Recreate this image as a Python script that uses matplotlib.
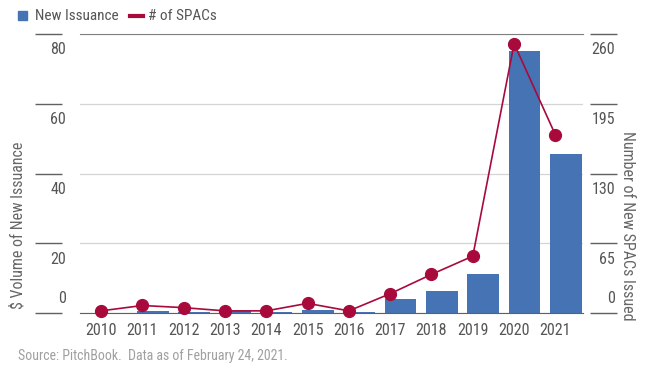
import matplotlib
matplotlib.use("Agg")
import matplotlib.pyplot as plt
from matplotlib.patches import Rectangle
from matplotlib.lines import Line2D

plt.rcParams['font.family'] = ['Roboto Condensed', 'DejaVu Sans']

years = ['2010', '2011', '2012', '2013', '2014', '2015', '2016', '2017', '2018', '2019', '2020', '2021']
issuance = [0.1, 0.6, 0.4, 0.5, 0.3, 1.0, 0.3, 4.0, 6.3, 11.2, 75.0, 45.5]
spacs = [2, 7, 5, 2, 2, 9, 2, 18, 36, 53, 251, 166]
left_ticks = [0, 20, 40, 60, 80]
right_ticks = [0, 65, 130, 195, 260]

blue = '#4673b4'
red = '#a90a3c'
grey = '#555555'

fig = plt.figure(figsize=(6.45, 3.82), dpi=100)
ax = fig.add_axes([0.124, 0.1806, 0.78, 0.7304])
ax2 = ax.twinx()

x = list(range(len(years)))
ax.bar([i + 0.25 for i in x], issuance, width=0.77, color=blue, zorder=2)
ax2.plot(x, spacs, color=red, lw=1.2, marker='o', markersize=8.5, zorder=3, clip_on=False)

ax.set_xlim(-0.51, 11.67)
ax.set_ylim(0, 80)
ax2.set_ylim(0, 260)

# gridlines
ax.set_yticks(left_ticks)
ax2.set_yticks(right_ticks)
ax.yaxis.grid(True, color='#d4d4d4', lw=0.9, zorder=0)
ax.set_axisbelow(True)

for a in (ax, ax2):
    for s in a.spines.values():
        s.set_visible(False)
ax.spines['top'].set_visible(True)
ax.spines['top'].set_color('#808080')
ax.spines['bottom'].set_visible(True)
ax.spines['bottom'].set_color('#606060')

ax.spines['left'].set_position(('outward', 13))
ax2.spines['right'].set_position(('outward', 5))
ax.tick_params(axis='y', length=19.5, width=1, color='#606060', labelleft=False)
ax2.tick_params(axis='y', length=19.5, width=1, color='#606060', labelright=False)

ax.set_xticks(x)
ax.set_xticklabels(years)
ax.tick_params(axis='x', length=0, pad=7, labelsize=11.5, labelcolor=grey)

# tick labels placed off the tick marks, like the original
for v in left_ticks:
    if v == 0:
        ax.annotate(str(v), xy=(0, v), xycoords=('axes fraction', 'data'), xytext=(-10, 5),
                    textcoords='offset points', ha='right', va='bottom', fontsize=11.5, color=grey)
    else:
        ax.annotate(str(v), xy=(0, v), xycoords=('axes fraction', 'data'), xytext=(-10, -6),
                    textcoords='offset points', ha='right', va='top', fontsize=11.5, color=grey)
for v in right_ticks:
    if v == 0:
        ax2.annotate(str(v), xy=(1, v), xycoords=('axes fraction', 'data'), xytext=(23, 5),
                     textcoords='offset points', ha='right', va='bottom', fontsize=11.5, color=grey)
    else:
        ax2.annotate(str(v), xy=(1, v), xycoords=('axes fraction', 'data'), xytext=(23, -6),
                     textcoords='offset points', ha='right', va='top', fontsize=11.5, color=grey)

fig.text(0.027, 0.41, '$ Volume of New Issuance', rotation=90, ha='center', va='center',
         fontsize=11.5, color='#666666')
fig.text(0.973, 0.41, 'Number of New SPACs Issued', rotation=270, ha='center', va='center',
         fontsize=11.5, color='#666666')

# legend
fig.patches.append(Rectangle((18 / 645, 1 - 20 / 382), 9 / 645, 9 / 382, transform=fig.transFigure,
                             color=blue))
fig.text(35 / 645, 1 - 16 / 382, 'New Issuance', ha='left', va='center', fontsize=11, color=grey)
fig.lines.append(Line2D([130 / 645, 143 / 645], [1 - 16 / 382, 1 - 16 / 382], transform=fig.transFigure,
                        color=red, lw=3))
fig.text(148 / 645, 1 - 16 / 382, '# of SPACs', ha='left', va='center', fontsize=11, color=grey)

fig.text(18 / 645, 1 - 356 / 382, 'Source: PitchBook.  Data as of February 24, 2021.', ha='left',
         va='center', fontsize=10, color='#a0a0a0')

fig.savefig('out.png', dpi=100)
